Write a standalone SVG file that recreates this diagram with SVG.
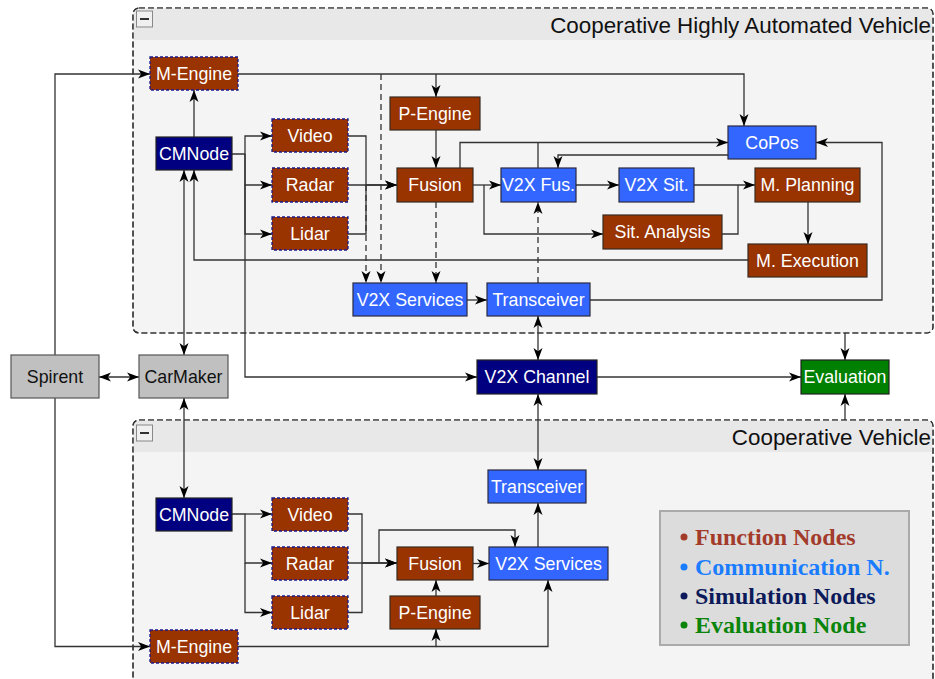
<svg xmlns="http://www.w3.org/2000/svg" width="935" height="679" viewBox="0 0 935 679">
  <defs>
    <marker id="arr" viewBox="0 0 12 10" refX="12" refY="5" markerWidth="12" markerHeight="10" markerUnits="userSpaceOnUse" orient="auto-start-reverse">
      <path d="M0,0.5 L12,5 L0,9.5 L3.2,5 z" fill="#000"/>
    </marker>
    <style>
      .cont { fill: #f4f4f4; stroke: #333; stroke-width: 1.2; stroke-dasharray: 6 3; }
      .hdr { fill: #e8e8e8; }
      .btn { fill: #f0f0f0; stroke: #888; stroke-width: 1; }
      .title { font-family: "Liberation Sans", Arial, sans-serif; font-size: 22.4px; fill: #111; text-anchor: end; }
      .fn { fill: #993300; stroke: #3a2a20; stroke-width: 1.2; }
      .fnd { fill: #993300; stroke: #1a1a8c; stroke-width: 1.3; stroke-dasharray: 3 2; }
      .com { fill: #3366ff; stroke: #2a2a40; stroke-width: 1.2; }
      .sim { fill: #000080; stroke: #222; stroke-width: 1.2; }
      .ev { fill: #008000; stroke: #222; stroke-width: 1.2; }
      .gr { fill: #c0c0c0; stroke: #555; stroke-width: 1.2; }
      .lbl { font-family: "Liberation Sans", Arial, sans-serif; font-size: 17.8px; fill: #fff; text-anchor: middle; }
      .lblk { font-family: "Liberation Sans", Arial, sans-serif; font-size: 17.8px; fill: #111; text-anchor: middle; }
      .e { fill: none; stroke: #333; stroke-width: 1.3; marker-end: url(#arr); }
      .en { fill: none; stroke: #333; stroke-width: 1.3; }
      .ed { fill: none; stroke: #333; stroke-width: 1.3; stroke-dasharray: 6 4; marker-end: url(#arr); }
      .bi { fill: none; stroke: #333; stroke-width: 1.3; marker-start: url(#arr); marker-end: url(#arr); }
      .leg { font-family: "Liberation Serif", "Times New Roman", serif; font-size: 24px; font-weight: bold; }
    </style>
  </defs>

  <rect width="935" height="679" fill="#fff"/>

  <!-- containers -->
  <g id="cont-top">
    <rect class="cont" x="133" y="8" width="800" height="325" rx="6"/>
    <path class="hdr" d="M139,8.6 H927 A5.4,5.4 0 0 1 932.4,14 V40 H133.6 V14 A5.4,5.4 0 0 1 139,8.6 z"/>
    <rect class="cont" x="133" y="8" width="800" height="325" rx="6" style="fill:none"/>
    <rect class="btn" x="136.5" y="11" width="16" height="16"/>
    <line x1="140" y1="19" x2="149" y2="19" stroke="#000" stroke-width="1.6"/>
    <text class="title" x="931" y="33">Cooperative Highly Automated Vehicle</text>
  </g>
  <g id="cont-bottom">
    <rect class="cont" x="133" y="420" width="800" height="290" rx="6"/>
    <path class="hdr" d="M139,420.6 H927 A5.4,5.4 0 0 1 932.4,426 V452 H133.6 V426 A5.4,5.4 0 0 1 139,420.6 z"/>
    <rect class="cont" x="133" y="420" width="800" height="290" rx="6" style="fill:none"/>
    <rect class="btn" x="136.5" y="425" width="16" height="16"/>
    <line x1="140" y1="433" x2="149" y2="433" stroke="#000" stroke-width="1.6"/>
    <text class="title" x="931" y="445">Cooperative Vehicle</text>
  </g>

  <!-- connectors -->
  <g id="connectors">
    <!-- external -->
    <path class="e" d="M55,355 V74 H150"/>
    <path class="e" d="M55,398 V646.5 H150"/>
    <path class="bi" d="M99,377 H139"/>
    <path class="bi" d="M184,355 V170"/>
    <path class="bi" d="M184,398 V498"/>
    <path class="e" d="M245,154 V377 H477"/>
    <path class="bi" d="M538,316 V360"/>
    <path class="bi" d="M538,394 V470"/>
    <path class="e" d="M597,377 H801"/>
    <path class="e" d="M845,333 V360"/>
    <path class="e" d="M845,420 V394"/>

    <!-- automated vehicle -->
    <path class="e" d="M194,137 V90"/>
    <path class="e" d="M232,154 H245 V136 H272"/>
    <path class="e" d="M245,154 V185 H272"/>
    <path class="e" d="M245,185 V234 H272"/>
    <path class="e" d="M238,74 H744 V126"/>
    <path class="e" d="M436,74 V97"/>
    <path class="ed" d="M381,74 V283"/>
    <path class="e" d="M348,136 H366 V185 H397"/>
    <path class="e" d="M348,185 H397"/>
    <path class="en" d="M348,234 H366 V185"/>
    <path class="ed" d="M366,185 V283"/>
    <path class="e" d="M436,130 V168"/>
    <path class="ed" d="M436,202 V283"/>
    <path class="e" d="M473,185 H501"/>
    <path class="e" d="M484,185 V234 H603"/>
    <path class="e" d="M460,168 V142.5 H728"/>
    <path class="en" d="M538,168 V142.5"/>
    <path class="e" d="M728,155 H558 V168"/>
    <path class="e" d="M576,185 H619"/>
    <path class="e" d="M694,185 H755"/>
    <path class="en" d="M722,234 H738 V185"/>
    <path class="e" d="M808,202 V244"/>
    <path class="e" d="M748,260 H194 V170"/>
    <path class="e" d="M467,300 H487"/>
    <path class="ed" d="M538,283 V202"/>
    <path class="e" d="M590,300 H882 V142.5 H816"/>

    <!-- cooperative vehicle -->
    <path class="e" d="M232,514 H245 V563 H272"/>
    <path class="e" d="M245,514 H272"/>
    <path class="e" d="M245,563 V612.5 H272"/>
    <path class="e" d="M348,514 H362 V563 H397"/>
    <path class="e" d="M348,563 H397"/>
    <path class="en" d="M348,612.5 H362 V563"/>
    <path class="e" d="M379,563 V530 H515 V547"/>
    <path class="e" d="M473,563.5 H489"/>
    <path class="e" d="M436,596 V580"/>
    <path class="e" d="M238,646.5 H436 V629"/>
    <path class="e" d="M436,646.5 H548 V580"/>
    <path class="e" d="M538,547 V503"/>
  </g>

  <!-- external nodes -->
  <g id="spirent"><rect class="gr" x="11" y="355" width="88" height="43"/><text class="lblk" x="55" y="383">Spirent</text></g>
  <g id="carmaker"><rect class="gr" x="139" y="355" width="89" height="43"/><text class="lblk" x="183.5" y="383">CarMaker</text></g>
  <g id="v2x-channel"><rect class="sim" x="477" y="360" width="120" height="34"/><text class="lbl" x="537" y="383">V2X Channel</text></g>
  <g id="evaluation"><rect class="ev" x="801" y="360" width="88" height="34"/><text class="lbl" x="845" y="383">Evaluation</text></g>

  <!-- automated vehicle nodes -->
  <g id="a-m-engine"><rect class="fnd" x="150" y="57" width="88" height="33"/><text class="lbl" x="194" y="80">M-Engine</text></g>
  <g id="a-p-engine"><rect class="fn" x="390" y="97" width="90" height="33"/><text class="lbl" x="435" y="120">P-Engine</text></g>
  <g id="a-cmnode"><rect class="sim" x="156" y="137" width="76" height="33"/><text class="lbl" x="194" y="160">CMNode</text></g>
  <g id="a-video"><rect class="fnd" x="272" y="119" width="76" height="33"/><text class="lbl" x="310" y="142">Video</text></g>
  <g id="a-radar"><rect class="fnd" x="272" y="168" width="76" height="34"/><text class="lbl" x="310" y="191">Radar</text></g>
  <g id="a-lidar"><rect class="fnd" x="272" y="217" width="76" height="33"/><text class="lbl" x="310" y="240">Lidar</text></g>
  <g id="a-fusion"><rect class="fn" x="397" y="168" width="76" height="34"/><text class="lbl" x="435" y="191">Fusion</text></g>
  <g id="a-v2x-fus"><rect class="com" x="501" y="168" width="75" height="34"/><text class="lbl" x="538.5" y="191">V2X Fus.</text></g>
  <g id="a-v2x-sit"><rect class="com" x="619" y="168" width="75" height="34"/><text class="lbl" x="656.5" y="191">V2X Sit.</text></g>
  <g id="a-m-planning"><rect class="fn" x="755" y="168" width="105" height="34"/><text class="lbl" x="807.5" y="191">M. Planning</text></g>
  <g id="a-copos"><rect class="com" x="728" y="126" width="88" height="33"/><text class="lbl" x="772" y="149">CoPos</text></g>
  <g id="a-sit-analysis"><rect class="fn" x="603" y="215" width="119" height="34"/><text class="lbl" x="662.5" y="238">Sit. Analysis</text></g>
  <g id="a-m-execution"><rect class="fn" x="748" y="244" width="119" height="33"/><text class="lbl" x="807.5" y="267">M. Execution</text></g>
  <g id="a-v2x-services"><rect class="com" x="353" y="283" width="114" height="33"/><text class="lbl" x="410" y="306">V2X Services</text></g>
  <g id="a-transceiver"><rect class="com" x="487" y="283" width="103" height="33"/><text class="lbl" x="538.5" y="306">Transceiver</text></g>

  <!-- cooperative vehicle nodes -->
  <g id="b-transceiver"><rect class="com" x="488" y="470" width="98" height="33"/><text class="lbl" x="537" y="493">Transceiver</text></g>
  <g id="b-cmnode"><rect class="sim" x="156" y="498" width="76" height="33"/><text class="lbl" x="194" y="521">CMNode</text></g>
  <g id="b-video"><rect class="fnd" x="272" y="498" width="76" height="33"/><text class="lbl" x="310" y="521">Video</text></g>
  <g id="b-radar"><rect class="fnd" x="272" y="547" width="76" height="33"/><text class="lbl" x="310" y="570">Radar</text></g>
  <g id="b-lidar"><rect class="fnd" x="272" y="596" width="76" height="33"/><text class="lbl" x="310" y="619">Lidar</text></g>
  <g id="b-fusion"><rect class="fn" x="397" y="547" width="76" height="33"/><text class="lbl" x="435" y="570">Fusion</text></g>
  <g id="b-v2x-services"><rect class="com" x="489" y="547" width="119" height="33"/><text class="lbl" x="548.5" y="570">V2X Services</text></g>
  <g id="b-p-engine"><rect class="fn" x="390" y="596" width="90" height="33"/><text class="lbl" x="435" y="619">P-Engine</text></g>
  <g id="b-m-engine"><rect class="fnd" x="150" y="630" width="88" height="33"/><text class="lbl" x="194" y="653">M-Engine</text></g>

  <!-- legend -->
  <g id="legend">
    <rect x="660" y="511" width="249" height="134" fill="#dcdcdc" stroke="#aaa" stroke-width="2"/>
    <circle cx="684" cy="537" r="3.5" fill="#a33b2b"/>
    <text class="leg" x="695" y="545" fill="#a33b2b">Function Nodes</text>
    <circle cx="684" cy="567" r="3.5" fill="#1a7cff"/>
    <text class="leg" x="695" y="575" fill="#1a7cff">Communication N.</text>
    <circle cx="684" cy="596" r="3.5" fill="#0c1a5a"/>
    <text class="leg" x="695" y="604" fill="#0c1a5a">Simulation Nodes</text>
    <circle cx="684" cy="625" r="3.5" fill="#0a840a"/>
    <text class="leg" x="695" y="633" fill="#0a840a">Evaluation Node</text>
  </g>
</svg>
